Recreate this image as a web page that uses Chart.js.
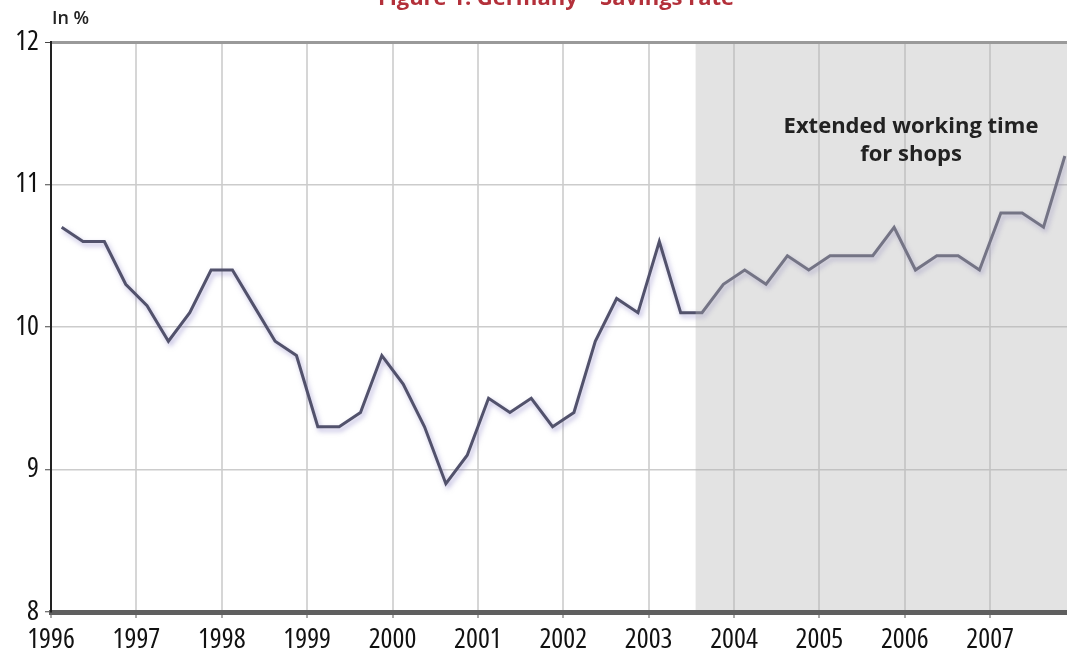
<!DOCTYPE html>
<html>
<head>
<meta charset="utf-8">
<script src="https://cdn.jsdelivr.net/npm/chart.js@4/dist/chart.umd.min.js"></script>
<style>
  html, body { margin: 0; padding: 0; background: #fff; }
  #wrap { width: 1067px; height: 655px; position: relative; }
</style>
</head>
<body>
<div id="wrap"><canvas id="savingsChart"></canvas></div>
<script>
// Germany household savings rate, quarterly, in %
const years = [1996, 1997, 1998, 1999, 2000, 2001, 2002, 2003, 2004, 2005, 2006, 2007];
const quarters = [1, 2, 3, 4];
const savingsRate = [
  10.7, 10.6, 10.6, 10.3,
  10.15, 9.9, 10.1, 10.4,
  10.4, 10.15, 9.9, 9.8,
  9.3, 9.3, 9.4, 9.8,
  9.6, 9.3, 8.9, 9.1,
  9.5, 9.4, 9.5, 9.3,
  9.4, 9.9, 10.2, 10.1,
  10.6, 10.1, 10.1, 10.3,
  10.4, 10.3, 10.5, 10.4,
  10.5, 10.5, 10.5, 10.7,
  10.4, 10.5, 10.5, 10.4,
  10.8, 10.8, 10.7, 11.2
];
const yTicks = [8, 9, 10, 11, 12];
const shadeStart = 2003.55;
const title = 'Figure 1: Germany \u2013 Savings rate';
const unitLabel = 'In %';
const noteLines = ['Extended working time', 'for shops'];

const FONT = '"Open Sans", "DejaVu Sans Condensed", sans-serif';

// quarter midpoints on the year axis
const points = [];
years.forEach((y, i) => {
  quarters.forEach((q, j) => {
    points.push({ x: y + (q - 0.5) / 4, y: savingsRate[i * 4 + j] });
  });
});

const lineShadow = {
  id: 'lineShadow',
  beforeDatasetDraw(chart) {
    const c = chart.ctx;
    c.save();
    c.shadowColor = 'rgba(120, 110, 190, 0.5)';
    c.shadowBlur = 5;
    c.shadowOffsetX = 2;
    c.shadowOffsetY = 3;
  },
  afterDatasetDraw(chart) {
    chart.ctx.restore();
  }
};

const shadeAndText = {
  id: 'shadeAndText',
  afterDatasetsDraw(chart) {
    const c = chart.ctx;
    const a = chart.chartArea;
    const xs = chart.scales.x;
    const x0 = xs.getPixelForValue(shadeStart);
    c.save();
    c.fillStyle = 'rgba(178, 178, 178, 0.36)';
    c.fillRect(x0, a.top + 2, a.right - x0, a.bottom - a.top - 4);

    // annotation
    c.fillStyle = '#222';
    c.font = 'bold 22px ' + FONT;
    c.textAlign = 'center';
    c.textBaseline = 'middle';
    c.fillText(noteLines[0], 911, 127);
    c.fillText(noteLines[1], 911, 155);

    // unit label
    c.font = '600 18px ' + FONT;
    c.textAlign = 'left';
    c.fillText(unitLabel, 52, 19);

    // clipped title
    c.font = 'bold 22px ' + FONT;
    c.textAlign = 'center';
    c.textBaseline = 'alphabetic';
    c.fillStyle = '#b3303a';
    c.fillText(title, 556, 5);
    c.restore();
  }
};

// weight string carries the font-stretch keyword into the canvas font shorthand
const tickFont = { family: FONT, size: 28, weight: 'condensed 500' };

const ctx = document.getElementById('savingsChart').getContext('2d');
const chart = new Chart(ctx, {
  type: 'line',
  data: {
    datasets: [{
      label: 'Savings rate',
      data: points,
      borderColor: '#52526c',
      borderWidth: 3,
      pointRadius: 0,
      tension: 0,
      fill: false
    }]
  },
  options: {
    responsive: true,
    maintainAspectRatio: false,
    animation: false,
    layout: { padding: { top: 42, right: 0, left: 0, bottom: 0 } },
    plugins: {
      legend: { display: false },
      tooltip: { enabled: false }
    },
    scales: {
      x: {
        type: 'linear',
        min: 1996,
        max: 2007.9,
        afterFit(scale) { scale.height = 43; },
        border: { color: '#5f5f5f', width: 5 },
        grid: {
          color: '#d6d6d6',
          lineWidth: 2,
          tickLength: 6,
          tickColor: '#555',
          tickWidth: 1
        },
        ticks: {
          stepSize: 1,
          includeBounds: false,
          autoSkip: false,
          maxRotation: 0,
          padding: 5,
          color: '#111',
          font: tickFont,
          callback: v => String(v)
        }
      },
      y: {
        min: yTicks[0],
        max: yTicks[yTicks.length - 1],
        afterFit(scale) { scale.width = 51; },
        border: { color: '#222', width: 2 },
        grid: {
          color: c => c.tick && c.tick.value === 12 ? '#9a9a9a' : '#cccccc',
          lineWidth: c => c.tick && c.tick.value === 12 ? 3 : 1.5,
          tickLength: 6,
          tickColor: '#444',
          tickWidth: 1
        },
        ticks: {
          stepSize: 1,
          padding: 6,
          color: '#111',
          font: tickFont
        }
      }
    }
  },
  plugins: [lineShadow, shadeAndText]
});
</script>
</body>
</html>
